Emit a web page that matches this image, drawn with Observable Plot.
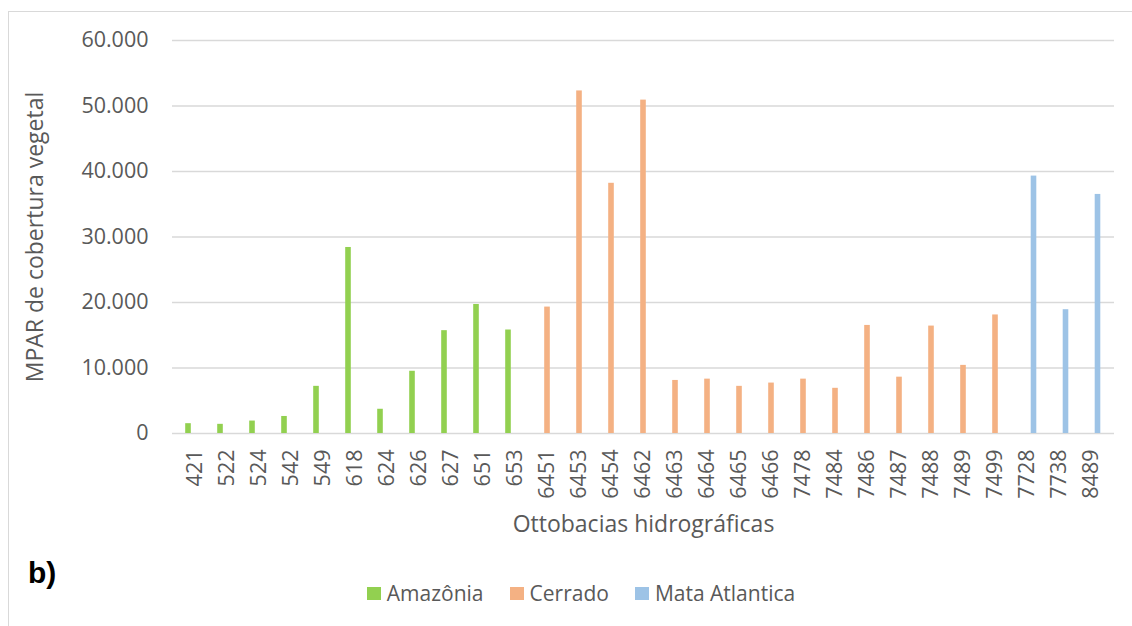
<!DOCTYPE html>
<html>
<head>
<meta charset="utf-8">
<script src="https://cdn.jsdelivr.net/npm/d3@7"></script>
<script src="https://cdn.jsdelivr.net/npm/@observablehq/plot@0.6"></script>
<style>
  html, body { margin: 0; padding: 0; background: #fff; }
  #wrap { position: relative; width: 1132px; height: 626px; overflow: hidden; font-family: "Open Sans", sans-serif; }
  #border { position: absolute; left: 8px; top: 11px; width: 1140px; height: 640px; border: 1.5px solid #d9d9d9; box-sizing: border-box; }
  #chart { position: absolute; left: 0; top: 0; }
  #tag { position: absolute; left: 28px; top: 556px; font-family: "Liberation Sans", Arial, sans-serif; font-weight: bold; font-size: 30px; color: #000; }
  #legend { position: absolute; left: 0; width: 1132px; top: 579px; display: flex; justify-content: center; padding-left: 30px; box-sizing: border-box; gap: 26px; font-size: 21px; color: #595959; }
  .item { display: flex; align-items: center; gap: 6px; }
  .sw { width: 14px; height: 13px; display: inline-block; }
</style>
</head>
<body>
<div id="wrap">
  <div id="border"></div>
  <div id="chart"></div>
  <div id="tag">b)</div>
  <div id="legend"></div>
</div>
<script>
const categories = ["421","522","524","542","549","618","624","626","627","651","653",
  "6451","6453","6454","6462","6463","6464","6465","6466","7478","7484","7486","7487","7488","7489","7499",
  "7728","7738","8489"];
const biomes = ["Amazônia","Amazônia","Amazônia","Amazônia","Amazônia","Amazônia","Amazônia","Amazônia","Amazônia","Amazônia","Amazônia",
  "Cerrado","Cerrado","Cerrado","Cerrado","Cerrado","Cerrado","Cerrado","Cerrado","Cerrado","Cerrado","Cerrado","Cerrado","Cerrado","Cerrado","Cerrado",
  "Mata Atlantica","Mata Atlantica","Mata Atlantica"];
const values = [1500, 1400, 1900, 2600, 7200, 28400, 3700, 9500, 15700, 19700, 15800,
  19300, 52300, 38200, 50900, 8100, 8300, 7200, 7700, 8300, 6900, 16500, 8600, 16400, 10400, 18100,
  39300, 18900, 36500];
const seriesNames = ["Amazônia", "Cerrado", "Mata Atlantica"];
const seriesColors = ["#92D050", "#F4B183", "#9DC3E6"];
const yTicks = [0, 10000, 20000, 30000, 40000, 50000, 60000];
const yTitle = "MPAR de cobertura vegetal";
const xTitle = "Ottobacias hidrográficas";

const data = categories.map((c, i) => ({category: c, biome: biomes[i], value: values[i]}));
const ptBR = d3.formatLocale({decimal: ",", thousands: ".", grouping: [3], currency: ["R$", ""]});
const fmt = ptBR.format(",d");
const offsets = {"Amazônia": -7, "Cerrado": 0, "Mata Atlantica": 6.5};

const barMarks = seriesNames.map((s, k) => Plot.barY(data.filter(d => d.biome === s), {
  x: "category", y: "value", fill: seriesColors[k], dx: offsets[s], insetLeft: 13.2, insetRight: 13.2
}));

const chart = Plot.plot({
  width: 1132,
  height: 626,
  marginLeft: 172,
  marginRight: 18,
  marginTop: 40,
  marginBottom: 193,
  style: {fontFamily: "Open Sans, sans-serif", color: "#595959", background: "transparent"},
  x: {domain: categories, padding: 0},
  y: {domain: [0, 60000]},
  marks: [
    Plot.ruleY(yTicks, {stroke: "#d9d9d9", strokeWidth: 1.5}),
    ...barMarks,
    Plot.axisY(yTicks, {tickSize: 0, tickPadding: 24, tickFormat: fmt, fontSize: 21.5, label: null}),
    Plot.axisX({tickSize: 0, tickPadding: 16, tickRotate: -90, fontSize: 21.5, label: null}),
    Plot.text([yTitle], {frameAnchor: "left", dx: -137, rotate: -90, textAnchor: "middle", lineAnchor: "middle", fontSize: 23, fill: "#595959"}),
    Plot.text([xTitle], {frameAnchor: "bottom", dy: 91, textAnchor: "middle", lineAnchor: "middle", fontSize: 23, fill: "#595959"})
  ]
});
document.getElementById("chart").appendChild(chart);

const legend = document.getElementById("legend");
seriesNames.forEach((s, k) => {
  const item = document.createElement("div");
  item.className = "item";
  const sw = document.createElement("span");
  sw.className = "sw";
  sw.style.background = seriesColors[k];
  const t = document.createElement("span");
  t.textContent = s;
  item.appendChild(sw);
  item.appendChild(t);
  legend.appendChild(item);
});
</script>
</body>
</html>
